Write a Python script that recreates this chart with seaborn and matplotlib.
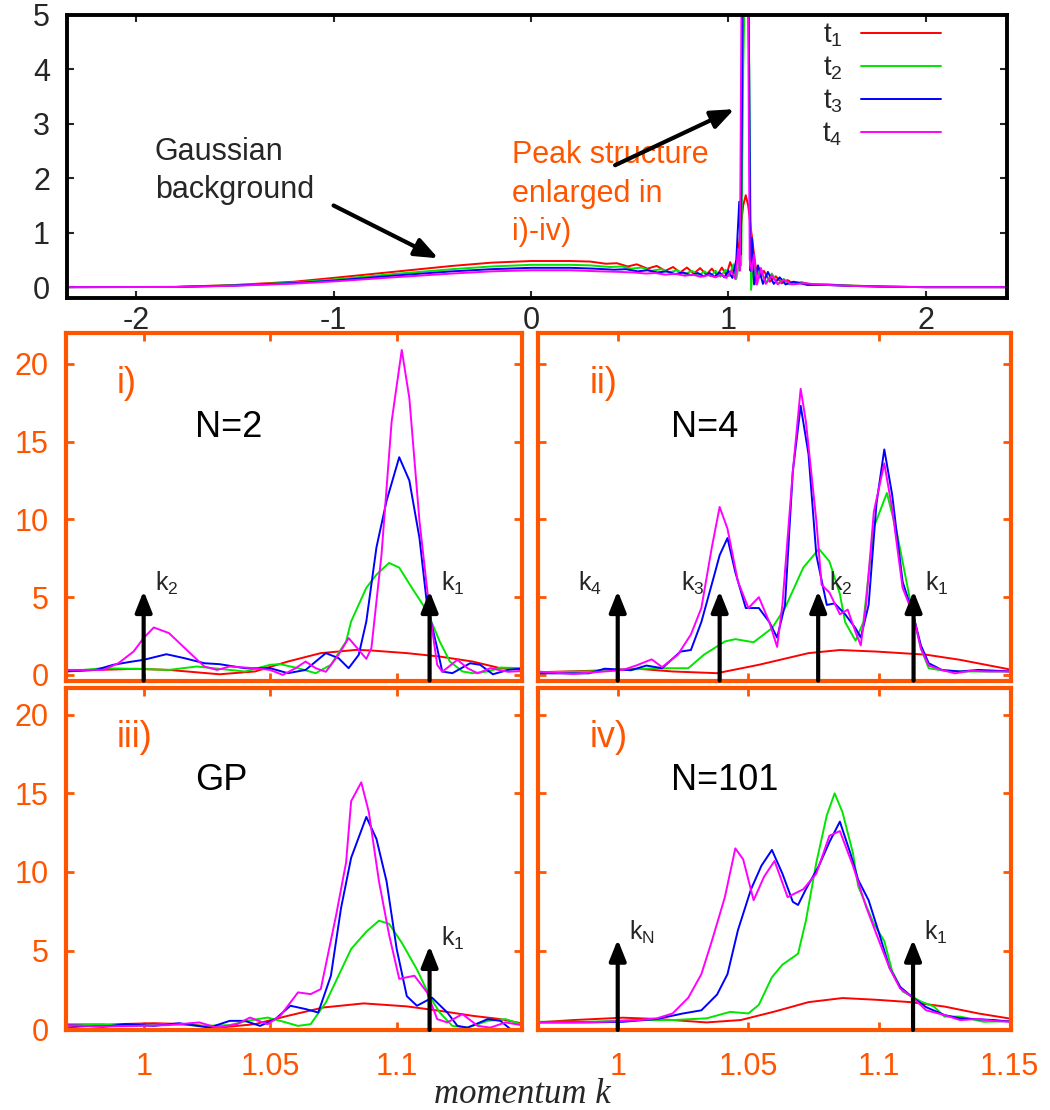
import numpy as np
import pandas as pd
import matplotlib
matplotlib.use('Agg')
import matplotlib.pyplot as plt
import seaborn as sns

# ---------------- data: (momentum k, signal) ----------------
time_labels = [r'$\mathrm{t}_1$', r'$\mathrm{t}_2$', r'$\mathrm{t}_3$', r'$\mathrm{t}_4$']
line_colors = ['#ff0000', '#00e600', '#0000ff', '#ff00ff']

# overview panel
top_red = [(-2.35, 0.0), (-1.8, 0.005), (-1.5, 0.04), (-1.2, 0.10), (-1.0, 0.17), (-0.7, 0.28),
           (-0.4, 0.39), (-0.2, 0.45), (0.0, 0.48), (0.2, 0.48), (0.30, 0.47), (0.38, 0.43),
           (0.435, 0.44), (0.49, 0.38), (0.536, 0.42), (0.59, 0.34), (0.637, 0.39), (0.68, 0.30),
           (0.72, 0.37), (0.755, 0.27), (0.79, 0.36), (0.825, 0.25), (0.857, 0.35), (0.888, 0.23),
           (0.916, 0.34), (0.943, 0.22), (0.967, 0.36), (0.99, 0.22), (1.009, 0.46), (1.03, 0.25),
           (1.045, 0.5), (1.06, 1.0), (1.075, 1.5), (1.088, 1.69), (1.10, 1.5), (1.12, 0.9),
           (1.135, 0.45), (1.15, 0.15), (1.18, 0.3), (1.21, 0.1), (1.24, 0.2), (1.27, 0.07),
           (1.30, 0.13), (1.33, 0.06), (1.37, 0.09), (1.42, 0.05), (1.5, 0.05), (1.6, 0.03),
           (1.8, 0.01), (2.0, 0.0), (2.41, 0.0)]
top_green = [(-2.35, 0.0), (-1.8, 0.004), (-1.5, 0.035), (-1.2, 0.085), (-1.0, 0.14), (-0.7, 0.24),
             (-0.4, 0.33), (-0.2, 0.38), (0.0, 0.41), (0.2, 0.41), (0.30, 0.40), (0.40, 0.37),
             (0.46, 0.38), (0.51, 0.34), (0.56, 0.36), (0.61, 0.30), (0.66, 0.33), (0.70, 0.27),
             (0.74, 0.31), (0.78, 0.24), (0.815, 0.30), (0.85, 0.22), (0.88, 0.29), (0.91, 0.20),
             (0.935, 0.30), (0.96, 0.19), (0.985, 0.32), (1.005, 0.20), (1.025, 0.42), (1.04, 0.15),
             (1.055, 0.45), (1.065, 0.4), (1.075, 4.0), (1.092, 7.2), (1.106, 4.0), (1.115, -0.05),
             (1.125, 0.5), (1.14, 0.05), (1.16, 0.35), (1.19, 0.08), (1.22, 0.25), (1.25, 0.06),
             (1.28, 0.15), (1.31, 0.05), (1.35, 0.09), (1.42, 0.04), (1.5, 0.045), (1.6, 0.03),
             (1.8, 0.01), (2.0, 0.0), (2.41, 0.0)]
top_blue = [(-2.35, 0.0), (-1.8, 0.003), (-1.5, 0.03), (-1.2, 0.075), (-1.0, 0.12), (-0.7, 0.21),
            (-0.4, 0.29), (-0.2, 0.33), (0.0, 0.355), (0.2, 0.355), (0.32, 0.34), (0.42, 0.32),
            (0.48, 0.33), (0.54, 0.29), (0.59, 0.31), (0.64, 0.27), (0.69, 0.29), (0.73, 0.24),
            (0.77, 0.27), (0.81, 0.22), (0.845, 0.26), (0.875, 0.20), (0.905, 0.26), (0.93, 0.19),
            (0.955, 0.27), (0.98, 0.18), (1.0, 0.30), (1.02, 0.17), (1.04, 0.5), (1.055, 1.57),
            (1.063, 0.6), (1.072, 5.0), (1.088, 14.0), (1.103, 5.0), (1.112, 0.3), (1.12, 0.9),
            (1.13, 0.05), (1.15, 0.4), (1.175, 0.06), (1.2, 0.28), (1.23, 0.06), (1.26, 0.18),
            (1.29, 0.05), (1.33, 0.1), (1.4, 0.04), (1.5, 0.04), (1.6, 0.025), (1.8, 0.008),
            (2.0, 0.0), (2.41, 0.0)]
top_magenta = [(-2.35, 0.0), (-1.8, 0.003), (-1.5, 0.025), (-1.2, 0.065), (-1.0, 0.105), (-0.7, 0.18),
               (-0.4, 0.25), (-0.2, 0.29), (0.0, 0.31), (0.2, 0.31), (0.35, 0.29), (0.45, 0.28),
               (0.52, 0.27), (0.58, 0.25), (0.63, 0.26), (0.68, 0.23), (0.73, 0.245), (0.78, 0.21),
               (0.82, 0.23), (0.86, 0.19), (0.9, 0.22), (0.935, 0.18), (0.965, 0.23), (0.99, 0.17),
               (1.015, 0.3), (1.035, 0.15), (1.05, 0.7), (1.058, 0.3), (1.066, 5.0), (1.085, 21.0),
               (1.1, 5.0), (1.108, 0.5), (1.118, 0.3), (1.13, 0.6), (1.145, 0.05), (1.165, 0.35),
               (1.19, 0.06), (1.22, 0.22), (1.25, 0.05), (1.28, 0.14), (1.32, 0.05), (1.38, 0.07),
               (1.5, 0.04), (1.6, 0.025), (1.8, 0.008), (2.0, 0.0), (2.41, 0.0)]

# panel i) N=2
p1_red = [(0.969, 0.26), (0.997, 0.39), (1.010, 0.32), (1.030, 0.04), (1.044, 0.22), (1.057, 0.86),
          (1.070, 1.4), (1.084, 1.61), (1.090, 1.57), (1.104, 1.4), (1.117, 1.18), (1.130, 0.86),
          (1.141, 0.43), (1.151, 0.32)]
p1_green = [(0.969, 0.22), (0.984, 0.43), (0.997, 0.39), (1.010, 0.32), (1.021, 0.54), (1.030, 0.39),
            (1.040, 0.22), (1.050, 0.65), (1.054, 0.69), (1.061, 0.43), (1.068, 0.11), (1.074, 0.65),
            (1.080, 2.15), (1.082, 3.44), (1.088, 5.6), (1.092, 6.45), (1.097, 7.2), (1.101, 6.9),
            (1.106, 5.6), (1.112, 4.1), (1.117, 2.15), (1.121, 0.86), (1.126, 0.22), (1.130, 0.11),
            (1.136, 0.22), (1.141, 0.47), (1.151, 0.43)]
p1_blue = [(0.969, 0.22), (0.981, 0.32), (0.988, 0.65), (0.994, 0.82), (1.000, 0.97), (1.009, 1.33),
           (1.016, 1.08), (1.024, 0.75), (1.030, 0.69), (1.040, 0.43), (1.050, 0.43), (1.057, 0.11),
           (1.064, 0.32), (1.072, 1.4), (1.077, 1.08), (1.081, 0.43), (1.085, 1.29), (1.088, 3.44),
           (1.092, 8.2), (1.096, 11.2), (1.101, 14.0), (1.105, 12.5), (1.109, 8.8), (1.112, 4.5),
           (1.116, 1.72), (1.118, 0.22), (1.122, 0.11), (1.129, 0.75), (1.133, 0.65), (1.138, 0.04),
           (1.144, 0.32), (1.151, 0.43)]
p1_magenta = [(0.969, 0.32), (0.984, 0.32), (0.990, 0.75), (0.996, 1.5), (1.000, 2.37), (1.004, 3.05),
              (1.010, 2.69), (1.017, 1.61), (1.024, 0.54), (1.029, 0.32), (1.034, 0.54), (1.044, 0.43),
              (1.050, 0.32), (1.055, 0.0), (1.060, 0.43), (1.064, 0.86), (1.068, 0.43), (1.072, 0.2),
              (1.077, 1.29), (1.081, 2.37), (1.085, 1.61), (1.088, 1.03), (1.090, 1.72), (1.094, 7.74),
              (1.098, 16.3), (1.102, 20.9), (1.105, 17.8), (1.109, 9.9), (1.113, 4.1), (1.116, 0.65),
              (1.118, 0.2), (1.124, 0.97), (1.128, 0.43), (1.132, 0.1), (1.137, 0.43), (1.144, 0.2),
              (1.151, 0.26)]

# panel ii) N=4
p2_red = [(0.969, 0.17), (0.989, 0.26), (1.008, 0.39), (1.021, 0.22), (1.038, 0.11), (1.054, 0.65),
          (1.073, 1.4), (1.085, 1.6), (1.099, 1.5), (1.118, 1.3), (1.131, 0.97), (1.151, 0.32)]
p2_green = [(0.969, 0.17), (0.989, 0.22), (1.002, 0.32), (1.015, 0.43), (1.027, 0.43), (1.033, 1.3),
            (1.041, 2.15), (1.045, 2.3), (1.052, 2.1), (1.059, 3.0), (1.064, 4.3), (1.071, 6.9),
            (1.077, 8.1), (1.081, 7.3), (1.085, 5.2), (1.087, 3.4), (1.091, 2.2), (1.094, 3.4),
            (1.098, 9.5), (1.103, 11.7), (1.107, 9.0), (1.112, 4.7), (1.116, 1.7), (1.119, 0.43),
            (1.125, 0.26), (1.131, 0.22), (1.151, 0.22)]
p2_blue = [(0.969, 0.1), (0.989, 0.1), (0.995, 0.4), (1.005, 0.3), (1.011, 0.6), (1.017, 0.43),
           (1.024, 1.5), (1.028, 1.6), (1.032, 3.4), (1.037, 6.45), (1.039, 7.7), (1.042, 8.8),
           (1.045, 6.6), (1.049, 4.3), (1.054, 4.3), (1.058, 3.4), (1.061, 2.4), (1.064, 4.5),
           (1.067, 13.1), (1.070, 17.3), (1.073, 14.2), (1.076, 7.7), (1.080, 4.5), (1.083, 4.6),
           (1.087, 3.9), (1.091, 3.0), (1.093, 2.4), (1.096, 4.5), (1.099, 11.0), (1.102, 14.5),
           (1.105, 11.6), (1.109, 6.0), (1.113, 3.9), (1.116, 1.9), (1.119, 0.75), (1.124, 0.32),
           (1.131, 0.22), (1.138, 0.32), (1.151, 0.22)]
p2_magenta = [(0.969, 0.22), (0.983, 0.06), (0.995, 0.22), (1.002, 0.32), (1.007, 0.6), (1.013, 1.0),
              (1.017, 0.5), (1.023, 1.3), (1.028, 2.6), (1.032, 4.3), (1.036, 8.2), (1.039, 10.8),
              (1.042, 9.4), (1.046, 6.0), (1.050, 4.3), (1.054, 5.0), (1.058, 3.4), (1.061, 1.8),
              (1.063, 4.5), (1.067, 13.1), (1.070, 18.4), (1.072, 16.3), (1.076, 9.9), (1.078, 5.8),
              (1.081, 5.3), (1.085, 3.9), (1.088, 4.2), (1.091, 2.75), (1.093, 1.9), (1.095, 4.5),
              (1.098, 10.5), (1.102, 13.6), (1.105, 10.7), (1.109, 5.6), (1.113, 3.9), (1.116, 1.7),
              (1.119, 0.6), (1.124, 0.32), (1.129, 0.1), (1.135, 0.26), (1.142, 0.22), (1.151, 0.22)]

# panel iii) GP
p3_red = [(0.969, 0.1), (0.990, 0.32), (1.004, 0.38), (1.017, 0.32), (1.030, 0.1), (1.044, 0.32),
          (1.057, 0.85), (1.071, 1.38), (1.087, 1.64), (1.104, 1.45), (1.117, 1.17), (1.130, 0.85),
          (1.141, 0.64), (1.151, 0.32)]
p3_green = [(0.969, 0.32), (0.984, 0.32), (0.997, 0.21), (1.010, 0.32), (1.024, 0.21), (1.034, 0.26),
            (1.041, 0.53), (1.049, 0.74), (1.054, 0.53), (1.061, 0.21), (1.066, 0.32), (1.072, 1.7),
            (1.077, 3.4), (1.082, 5.1), (1.088, 6.2), (1.093, 6.9), (1.097, 6.7), (1.102, 5.5),
            (1.108, 3.8), (1.113, 2.1), (1.117, 1.06), (1.122, 0.21), (1.128, 0.1), (1.136, 0.53),
            (1.143, 0.64), (1.151, 0.21)]
p3_blue = [(0.969, 0.26), (0.984, 0.15), (0.993, 0.32), (1.004, 0.21), (1.014, 0.38), (1.026, 0.1),
           (1.034, 0.53), (1.040, 0.53), (1.046, 0.21), (1.052, 0.64), (1.058, 1.49), (1.064, 1.28),
           (1.069, 1.06), (1.074, 3.4), (1.078, 7.7), (1.082, 10.9), (1.088, 13.5), (1.092, 12.1),
           (1.096, 9.4), (1.100, 5.1), (1.104, 2.1), (1.108, 1.49), (1.114, 2.0), (1.120, 1.06),
           (1.124, 0.21), (1.128, 0.1), (1.136, 0.64), (1.141, 0.53), (1.145, 0.0)]
p3_magenta = [(0.969, 0.26), (0.984, 0.17), (0.997, 0.21), (1.010, 0.26), (1.022, 0.43), (1.029, 0.1),
              (1.037, 0.32), (1.042, 0.74), (1.049, 0.32), (1.054, 0.85), (1.061, 2.34), (1.066, 2.23),
              (1.070, 2.55), (1.076, 7.2), (1.080, 10.6), (1.082, 14.5), (1.086, 15.7), (1.089, 13.8),
              (1.093, 9.4), (1.097, 6.0), (1.101, 3.2), (1.107, 3.4), (1.112, 2.34), (1.116, 0.64),
              (1.120, 0.43), (1.126, 0.96), (1.132, 0.21), (1.137, 0.1), (1.143, 0.43), (1.151, 0.21)]

# panel iv) N=101
p4_red = [(0.969, 0.43), (0.983, 0.58), (1.002, 0.73), (1.015, 0.65), (1.034, 0.43), (1.047, 0.58),
          (1.060, 1.12), (1.073, 1.72), (1.086, 1.98), (1.099, 1.87), (1.112, 1.72), (1.125, 1.44),
          (1.138, 1.0), (1.151, 0.65)]
p4_green = [(0.969, 0.47), (0.989, 0.47), (1.008, 0.58), (1.021, 0.58), (1.034, 0.69), (1.043, 1.1),
            (1.050, 1.0), (1.054, 1.55), (1.059, 3.3), (1.063, 4.1), (1.069, 4.8), (1.072, 6.9),
            (1.076, 10.6), (1.080, 13.6), (1.083, 15.0), (1.086, 13.8), (1.090, 11.2), (1.092, 9.1),
            (1.098, 6.7), (1.102, 5.6), (1.105, 3.7), (1.109, 2.4), (1.116, 1.76), (1.121, 1.44),
            (1.125, 0.8), (1.131, 0.8), (1.140, 0.47), (1.151, 0.52)]
p4_blue = [(0.969, 0.43), (0.989, 0.43), (1.002, 0.47), (1.015, 0.65), (1.025, 1.0), (1.032, 1.2),
           (1.038, 2.2), (1.042, 3.5), (1.046, 6.3), (1.051, 8.9), (1.055, 10.4), (1.059, 11.4),
           (1.063, 9.9), (1.067, 8.1), (1.069, 7.9), (1.072, 8.9), (1.077, 10.4), (1.081, 11.9),
           (1.085, 13.2), (1.089, 11.2), (1.092, 9.5), (1.096, 8.2), (1.100, 6.1), (1.104, 3.9),
           (1.108, 2.7), (1.113, 2.0), (1.118, 1.4), (1.125, 0.9), (1.131, 0.69), (1.144, 0.58),
           (1.151, 0.47)]
p4_magenta = [(0.969, 0.43), (0.983, 0.43), (0.995, 0.47), (1.008, 0.58), (1.015, 0.69), (1.021, 1.0),
              (1.027, 2.0), (1.032, 3.5), (1.036, 5.6), (1.041, 8.4), (1.045, 11.5), (1.048, 10.8),
              (1.052, 8.2), (1.056, 9.7), (1.060, 10.7), (1.065, 8.4), (1.071, 8.9), (1.076, 9.9),
              (1.081, 12.3), (1.085, 12.6), (1.090, 10.4), (1.095, 7.8), (1.100, 5.6), (1.104, 3.9),
              (1.108, 2.6), (1.113, 2.0), (1.118, 1.2), (1.125, 0.9), (1.131, 0.58), (1.138, 0.65),
              (1.144, 0.52), (1.151, 0.47)]

# arrows marking the momenta k_j
p1_arrow_k = [1.0, 1.113]
p1_arrow_names = [r'$\mathrm{k}_2$', r'$\mathrm{k}_1$']
p2_arrow_k = [1.0, 1.039, 1.0767, 1.1132]
p2_arrow_names = [r'$\mathrm{k}_4$', r'$\mathrm{k}_3$', r'$\mathrm{k}_2$', r'$\mathrm{k}_1$']
p3_arrow_k = [1.113]
p3_arrow_names = [r'$\mathrm{k}_1$']
p4_arrow_k = [1.0, 1.113]
p4_arrow_names = [r'$\mathrm{k}_\mathrm{N}$', r'$\mathrm{k}_1$']

top_xticks = [-2, -1, 0, 1, 2]
top_yticks = [0, 1, 2, 3, 4, 5]
zoom_xticks = [1.0, 1.05, 1.1, 1.15]
zoom_xticklabels = ['1', '1.05', '1.1', '1.15']
zoom_yticks = [0, 5, 10, 15, 20]

# ---------------- styling ----------------
ORANGE = '#ff5500'
sns.set_style('ticks')
plt.rcParams['font.family'] = ['Liberation Sans', 'DejaVu Sans']
plt.rcParams['axes.unicode_minus'] = False
plt.rcParams['mathtext.fontset'] = 'custom'
plt.rcParams['mathtext.rm'] = 'Liberation Sans'
plt.rcParams['mathtext.it'] = 'Liberation Sans:italic'


def draw_curves(ax, series, labels=None):
    """Draw the four time slices t1..t4 of one panel."""
    for i, pts in enumerate(series):
        df = pd.DataFrame(pts, columns=['k', 'n'])
        sns.lineplot(data=df, x='k', y='n', color=line_colors[i], lw=1.4, ax=ax,
                     estimator=None, sort=False, legend=False,
                     label=None if labels is None else labels[i])


fig = plt.figure(figsize=(10.5, 11.1), dpi=100)

# ---- overview panel ----
ax0 = fig.add_axes([0.0635, 0.7315, 0.8953, 0.255])
draw_curves(ax0, [top_red, top_green, top_blue, top_magenta], labels=time_labels)
ax0.set_xlim(-2.352, 2.41)
ax0.set_ylim(-0.2, 5.0)
ax0.set_xticks(top_xticks)
ax0.set_yticks(top_yticks)
ax0.set_xlabel('')
ax0.set_ylabel('')
for sp in ax0.spines.values():
    sp.set_visible(True)
    sp.set_linewidth(2.8)
    sp.set_color('black')
ax0.tick_params(direction='in', length=5, width=1.5, top=True, right=True, labelsize=22)
ax0.tick_params(axis='x', pad=6)
ax0.tick_params(axis='y', pad=12)
ax0.legend(loc='upper right', bbox_to_anchor=(0.945, 1.025), markerfirst=False, frameon=False,
           fontsize=20, handlelength=2.9, labelspacing=0.2, handletextpad=0.65, borderaxespad=0.1)

ax0.text(-1.905, 2.13, 'Gaussian\nbackground', fontsize=22, ha='left', va='center', linespacing=1.35)
ax0.text(-0.096, 1.72, 'Peak structure\nenlarged in\ni)-iv)', fontsize=22, color=ORANGE,
         ha='left', va='center', linespacing=1.35)
arrow_style = dict(arrowstyle='-|>,head_length=0.7,head_width=0.28', lw=3, color='black',
                   mutation_scale=20, shrinkA=0, shrinkB=0)
ax0.annotate('', xy=(-0.47, 0.53), xytext=(-1.0, 1.5), arrowprops=arrow_style)
ax0.annotate('', xy=(1.03, 3.27), xytext=(0.426, 2.24), arrowprops=arrow_style)

# ---- enlarged panels ----
panels = [
    ([0.0633, 0.3868, 0.4338, 0.3128], [p1_red, p1_green, p1_blue, p1_magenta], 'i)', 'N=2',
     p1_arrow_k, p1_arrow_names, ['r', 'r'], 5.4, (-0.37, 21.96), 1.1495, False, True),
    ([0.5124, 0.3868, 0.4505, 0.3128], [p2_red, p2_green, p2_blue, p2_magenta], 'ii)', 'N=4',
     p2_arrow_k, p2_arrow_names, ['l', 'l', 'r', 'r'], 5.4, (-0.37, 21.96), 1.1505, False, False),
    ([0.0633, 0.0721, 0.4338, 0.3081], [p3_red, p3_green, p3_blue, p3_magenta], 'iii)', 'GP',
     p3_arrow_k, p3_arrow_names, ['r'], 5.3, (-0.05, 21.7), 1.1495, True, True),
    ([0.5124, 0.0721, 0.4505, 0.3081], [p4_red, p4_green, p4_blue, p4_magenta], 'iv)', 'N=101',
     p4_arrow_k, p4_arrow_names, ['r', 'r'], 5.7, (-0.05, 21.7), 1.1505, True, False),
]

for rect, series, tag, title, ak, anames, sides, tip, ylim, xmax, showx, showy in panels:
    ax = fig.add_axes(rect)
    draw_curves(ax, series)
    ax.set_xlim(0.9695, xmax)
    ax.set_ylim(*ylim)
    nx = 4 if xmax > 1.15 else 3
    ax.set_xticks(zoom_xticks[:nx])
    ax.set_xticklabels(zoom_xticklabels[:nx])
    ax.set_yticks(zoom_yticks)
    ax.set_xlabel('')
    ax.set_ylabel('')
    for sp in ax.spines.values():
        sp.set_visible(True)
        sp.set_linewidth(3)
        sp.set_color(ORANGE)
    ax.tick_params(direction='in', length=6, width=2, color=ORANGE, labelcolor=ORANGE,
                   labelsize=22, top=True, right=True,
                   labelbottom=showx, labelleft=showy)
    ax.tick_params(axis='x', pad=16)
    ax.tick_params(axis='y', pad=13)

    for k, name, side in zip(ak, anames, sides):
        ax.annotate('', xy=(k, tip), xytext=(k, ylim[0]),
                    arrowprops=dict(arrowstyle='-|>,head_length=0.7,head_width=0.28', lw=3,
                                    color='black', mutation_scale=18, shrinkA=0, shrinkB=0))
        dx = 8 if side == 'r' else -11
        ax.annotate(name, xy=(k, tip), xytext=(dx, 0), textcoords='offset points',
                    ha='left' if side == 'r' else 'right', va='baseline', fontsize=18)

    ax.text(0.11, 0.855, tag, transform=ax.transAxes, color=ORANGE, fontsize=26,
            ha='left', va='center')
    ax.text(0.282, 0.73, title, transform=ax.transAxes, color='black', fontsize=26,
            ha='left', va='center')

fig.text(0.497, 0.006, 'momentum k', fontsize=25, style='italic', family='Liberation Serif',
         ha='center', va='baseline')

fig.savefig('out.png', dpi=100)
